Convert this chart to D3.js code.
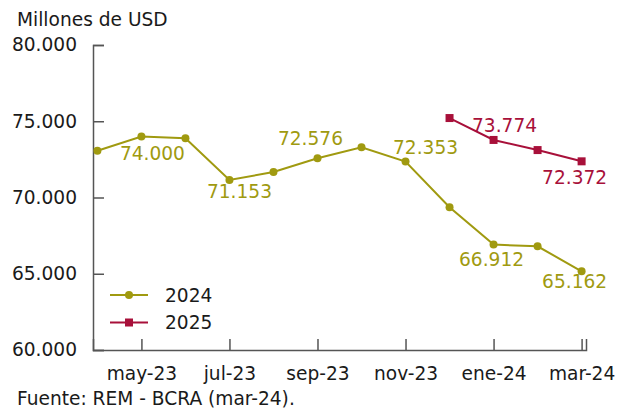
<!DOCTYPE html>
<html>
<head>
<meta charset="utf-8">
<script src="https://cdn.jsdelivr.net/npm/d3@7"></script>
<style>
  html, body { margin: 0; padding: 0; background: #fff; }
  svg { display: block; font-family: "DejaVu Sans", sans-serif; }
</style>
</head>
<body>
<svg id="chart" width="629" height="412"></svg>
<script>
const months = ["abr-23","may-23","jun-23","jul-23","ago-23","sep-23","oct-23","nov-23","dic-23","ene-24","feb-24","mar-24"];
const tickMonths = ["may-23","jul-23","sep-23","nov-23","ene-24","mar-24"];
const values2024 = [73070, 74000, 73880, 71153, 71670, 72576, 73290, 72353, 69360, 66912, 66800, 65162];
const values2025 = [null, null, null, null, null, null, null, null, 75210, 73774, 73110, 72372];
const yTicks = [60000, 65000, 70000, 75000, 80000];
const seriesNames = ["2024", "2025"];
const colors = ["#a09a10", "#a8103a"];
// which points carry a value label
const labeled2024 = [1, 3, 5, 7, 9, 11];
const labeled2025 = [9, 11];
// label placement (style, not data): offsets from point
const offsets2024 = {1:[11,23], 3:[10,18], 5:[-7,-13], 7:[20,-8], 9:[-2,21], 11:[-7,17]};
const offsets2025 = {9:[11,-8], 11:[-7,23]};

const FS = 18.6;
const svg = d3.select("#chart");
const fmt = v => d3.format(",")(v).replace(/,/g, ".");
const fmtLabel = v => (v/1000).toFixed(3);

const x = d3.scaleLinear().domain([-0.1, 11.1]).range([93, 586]);
const y = d3.scaleLinear().domain([60000, 80000]).range([350, 45]);

const axisColor = "#555";
const textColor = "#1a1a1a";

// Y axis
const yAxis = d3.axisLeft(y).tickValues(yTicks).tickSize(-11).tickPadding(16)
  .tickFormat(d => fmt(d));
const gy = svg.append("g").attr("transform", "translate(93,0)").call(yAxis);
gy.select(".domain").attr("stroke", axisColor).attr("stroke-width", 1.5);
gy.selectAll(".tick line").attr("stroke", axisColor).attr("stroke-width", 1.5);
gy.selectAll(".tick text").attr("fill", textColor).attr("font-size", FS).attr("font-family", "DejaVu Sans");

// X axis
const xAxis = d3.axisBottom(x).tickValues(tickMonths.map(m => months.indexOf(m)))
  .tickSize(-11).tickPadding(17).tickFormat(i => months[i]);
const gx = svg.append("g").attr("transform", "translate(0,350)").call(xAxis);
gx.select(".domain").attr("stroke", axisColor).attr("stroke-width", 1.5);
gx.selectAll(".tick line").attr("stroke", axisColor).attr("stroke-width", 1.5);
gx.selectAll(".tick text").attr("fill", textColor).attr("font-size", FS).attr("font-family", "DejaVu Sans");

// Lines
const line = d3.line().defined(d => d != null).x((d, i) => x(i)).y(d => y(d));
svg.append("path").datum(values2024).attr("d", line)
  .attr("fill", "none").attr("stroke", colors[0]).attr("stroke-width", 2);
svg.append("path").datum(values2025).attr("d", line)
  .attr("fill", "none").attr("stroke", colors[1]).attr("stroke-width", 2);

// Markers
const pts24 = values2024.map((v, i) => ({v, i})).filter(d => d.v != null);
svg.selectAll("circle.p24").data(pts24).join("circle")
  .attr("cx", d => x(d.i)).attr("cy", d => y(d.v)).attr("r", 4).attr("fill", colors[0]);
const pts25 = values2025.map((v, i) => ({v, i})).filter(d => d.v != null);
svg.selectAll("rect.p25").data(pts25).join("rect")
  .attr("x", d => x(d.i) - 4).attr("y", d => y(d.v) - 4).attr("width", 8).attr("height", 8)
  .attr("fill", colors[1]);

// Value labels
function labels(vals, idxs, offs, color) {
  svg.append("g").selectAll("text").data(idxs).join("text")
    .attr("x", i => x(i) + offs[i][0]).attr("y", i => y(vals[i]) + offs[i][1])
    .attr("text-anchor", "middle").attr("font-size", FS).attr("fill", color)
    .text(i => fmtLabel(vals[i]));
}
labels(values2024, labeled2024, offsets2024, colors[0]);
labels(values2025, labeled2025, offsets2025, colors[1]);

// Legend
const legend = svg.append("g");
seriesNames.forEach((name, k) => {
  const ly = 295 + k * 27.5;
  legend.append("line").attr("x1", 110).attr("x2", 148).attr("y1", ly).attr("y2", ly)
    .attr("stroke", colors[k]).attr("stroke-width", 2);
  if (k === 0) legend.append("circle").attr("cx", 129).attr("cy", ly).attr("r", 4).attr("fill", colors[k]);
  else legend.append("rect").attr("x", 125).attr("y", ly - 4).attr("width", 8).attr("height", 8).attr("fill", colors[k]);
  legend.append("text").attr("x", 165).attr("y", ly).attr("dy", "0.36em")
    .attr("font-size", FS).attr("fill", textColor).text(name);
});

// Title & source
svg.append("text").attr("x", 17).attr("y", 26).attr("font-size", FS).attr("fill", textColor).text("Millones de USD");
svg.append("text").attr("x", 17).attr("y", 405).attr("font-size", FS).attr("fill", textColor).text("Fuente: REM - BCRA (mar-24).");
</script>
</body>
</html>
